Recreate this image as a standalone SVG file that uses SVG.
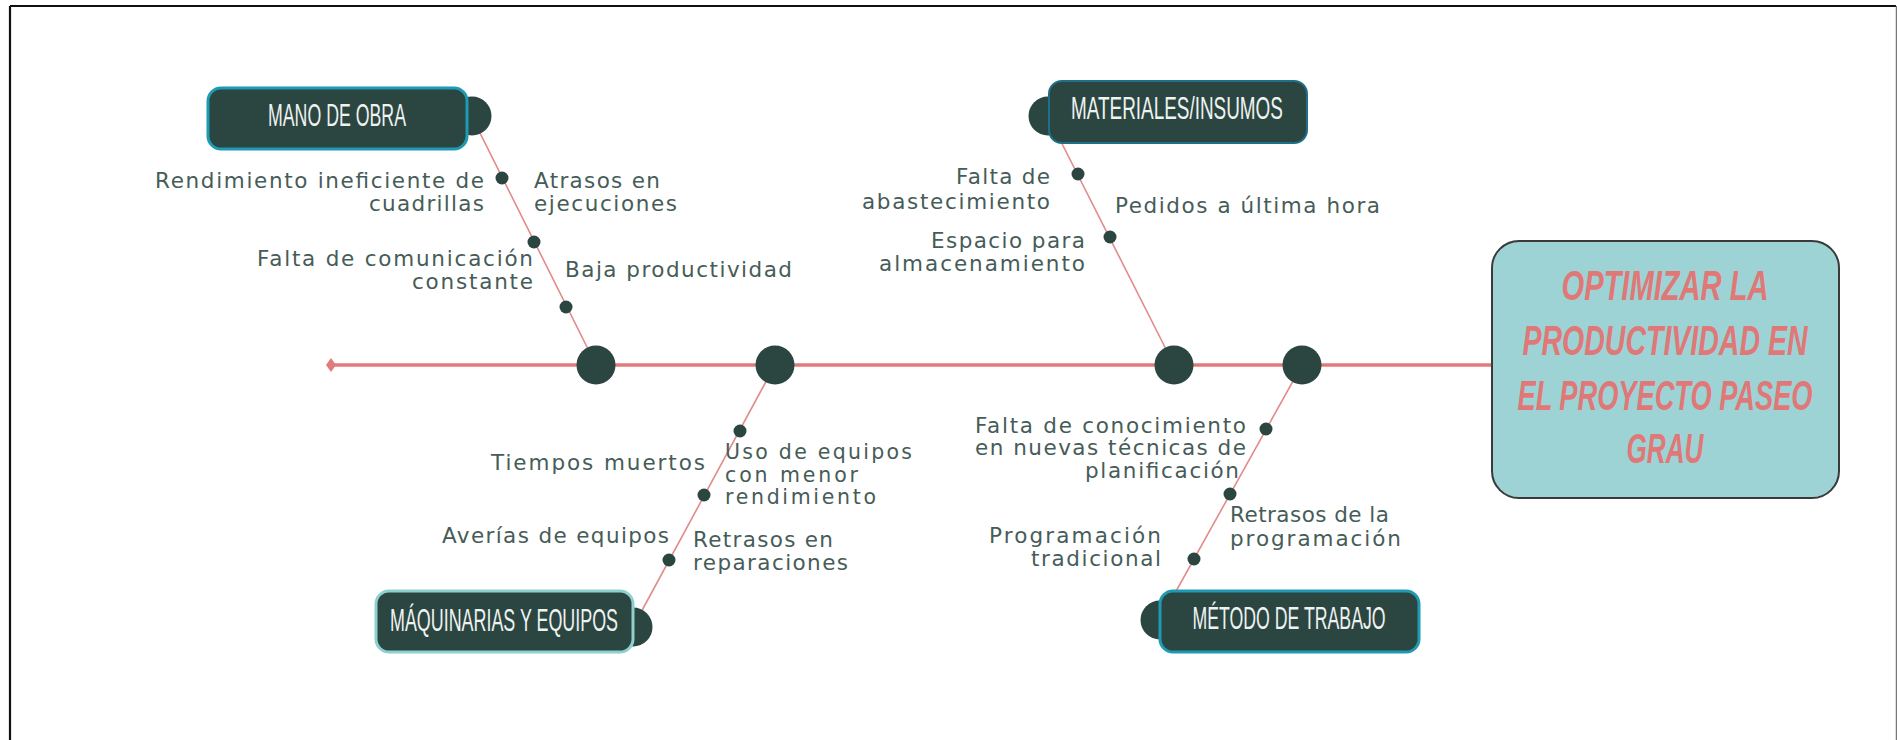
<svg xmlns="http://www.w3.org/2000/svg" width="1897" height="740" viewBox="0 0 1897 740">
<style>
.frame{stroke:#111;stroke-width:2.2;fill:none}
.spine{stroke:#e07b7b;stroke-width:3.5;fill:none}
.bone{stroke:#e38a8a;stroke-width:1.6;fill:none}
.big{fill:#2b4641}
.dot{fill:#2b4641}
.box{fill:#2b4641;stroke-width:3}
.knob{fill:#2b4641}
.title{font-family:"Liberation Sans","DejaVu Sans",sans-serif;font-size:31px;fill:#eef2f1;text-anchor:middle}
.lbl{font-family:"DejaVu Sans","Noto Sans",sans-serif;font-size:21.5px;fill:#465c58}
.sm{font-size:20.5px}
.e{text-anchor:end}
.goal{fill:#9dd3d4;stroke:#3a3a3a;stroke-width:2}
.gt{font-family:"Liberation Sans","DejaVu Sans",sans-serif;font-size:42px;font-weight:bold;font-style:italic;fill:#e07878;text-anchor:middle}
</style>
<rect width="1897" height="740" fill="#fff"/>
<line class="frame" x1="10" y1="6" x2="1896" y2="6"/>
<line class="frame" x1="10" y1="6" x2="10" y2="740"/>
<line x1="1896.5" y1="6" x2="1896.5" y2="740" stroke="#777" stroke-width="1.5"/>

<g id="connectors">
  <line class="spine" x1="333" y1="365" x2="1493" y2="365"/>
  <path d="M331 358 L336 365 L331 372 L326 365 Z" fill="#e07b7b"/>
  <line class="bone" x1="472" y1="117" x2="596" y2="365"/>
  <line class="bone" x1="1048" y1="116" x2="1174" y2="365"/>
  <line class="bone" x1="775" y1="365" x2="633" y2="627"/>
  <line class="bone" x1="1302" y1="365" x2="1160" y2="620"/>
  <circle class="big" cx="596" cy="365" r="19.5"/>
  <circle class="big" cx="775" cy="365" r="19.5"/>
  <circle class="big" cx="1174" cy="365" r="19.5"/>
  <circle class="big" cx="1302" cy="365" r="19.5"/>
</g>

<g id="goal">
  <rect class="goal" x="1492" y="241" width="347" height="257" rx="27"/>
  <text class="gt" transform="translate(1665,300) scale(0.66,1)" textLength="313.6" lengthAdjust="spacingAndGlyphs">OPTIMIZAR LA</text>
  <text class="gt" transform="translate(1665,355) scale(0.66,1)" textLength="431.8" lengthAdjust="spacingAndGlyphs">PRODUCTIVIDAD EN</text>
  <text class="gt" transform="translate(1665,410) scale(0.66,1)" textLength="447" lengthAdjust="spacingAndGlyphs">EL PROYECTO PASEO</text>
  <text class="gt" transform="translate(1665,463) scale(0.66,1)" textLength="116.7" lengthAdjust="spacingAndGlyphs">GRAU</text>
</g>

<g id="mano-de-obra">
  <circle class="knob" cx="472" cy="116" r="19.5"/>
  <rect class="box" x="208" y="88" width="259" height="61" rx="13" stroke="#1e9ab3"/>
  <text class="title" transform="translate(337,126) scale(0.6,1)" textLength="230" lengthAdjust="spacingAndGlyphs">MANO DE OBRA</text>
  <circle class="dot" cx="502" cy="178" r="6.5"/>
  <circle class="dot" cx="534" cy="242" r="6.5"/>
  <circle class="dot" cx="566" cy="307" r="6.5"/>
  <text class="lbl e" x="484" y="188" textLength="329">Rendimiento ineficiente de</text>
  <text class="lbl e" x="484" y="211" textLength="115">cuadrillas</text>
  <text class="lbl" x="534" y="188" textLength="126">Atrasos en</text>
  <text class="lbl" x="534" y="211" textLength="143">ejecuciones</text>
  <text class="lbl e" x="533" y="266" textLength="276">Falta de comunicación</text>
  <text class="lbl e" x="533" y="289" textLength="121">constante</text>
  <text class="lbl" x="565" y="277" textLength="227">Baja productividad</text>
</g>

<g id="materiales">
  <circle class="knob" cx="1048" cy="116" r="19.5"/>
  <rect class="box" x="1049" y="81" width="258" height="62" rx="13" stroke="#1f6f86" style="stroke-width:2"/>
  <text class="title" transform="translate(1177,119) scale(0.6,1)" textLength="353" lengthAdjust="spacingAndGlyphs">MATERIALES/INSUMOS</text>
  <circle class="dot" cx="1078" cy="174" r="6.5"/>
  <circle class="dot" cx="1110" cy="237" r="6.5"/>
  <text class="lbl e" x="1050" y="184" textLength="94">Falta de</text>
  <text class="lbl e" x="1050" y="209" textLength="188">abastecimiento</text>
  <text class="lbl e" x="1085" y="248" textLength="154">Espacio para</text>
  <text class="lbl e" x="1085" y="271" textLength="206">almacenamiento</text>
  <text class="lbl" x="1115" y="213" textLength="265">Pedidos a última hora</text>
</g>

<g id="maquinarias">
  <circle class="knob" cx="633" cy="627" r="19.5"/>
  <rect class="box" x="376" y="591" width="257" height="61" rx="13" stroke="#8ecfcf"/>
  <text class="title" transform="translate(504,631) scale(0.6,1)" textLength="380" lengthAdjust="spacingAndGlyphs">MÁQUINARIAS Y EQUIPOS</text>
  <circle class="dot" cx="740" cy="431" r="6.5"/>
  <circle class="dot" cx="704" cy="495" r="6.5"/>
  <circle class="dot" cx="669" cy="560" r="6.5"/>
  <text class="lbl e" x="705" y="470" textLength="214">Tiempos muertos</text>
  <text class="lbl e" x="669" y="543" textLength="227">Averías de equipos</text>
  <text class="lbl sm" x="725" y="459" textLength="187">Uso de equipos</text>
  <text class="lbl sm" x="725" y="481.5" textLength="133">con menor</text>
  <text class="lbl sm" x="725" y="504" textLength="151">rendimiento</text>
  <text class="lbl" x="693" y="547" textLength="140">Retrasos en</text>
  <text class="lbl" x="693" y="570" textLength="155">reparaciones</text>
</g>

<g id="metodo">
  <circle class="knob" cx="1160" cy="620" r="19.5"/>
  <rect class="box" x="1160" y="591" width="259" height="61" rx="13" stroke="#1e9ab3"/>
  <text class="title" transform="translate(1289,629) scale(0.6,1)" textLength="322" lengthAdjust="spacingAndGlyphs">MÉTODO DE TRABAJO</text>
  <circle class="dot" cx="1266" cy="429" r="6.5"/>
  <circle class="dot" cx="1230" cy="494" r="6.5"/>
  <circle class="dot" cx="1194" cy="559" r="6.5"/>
  <text class="lbl e" x="1246" y="433" textLength="271">Falta de conocimiento</text>
  <text class="lbl e" x="1246" y="455" textLength="271">en nuevas técnicas de</text>
  <text class="lbl e" x="1239" y="478" textLength="154">planificación</text>
  <text class="lbl e" x="1161" y="543" textLength="172">Programación</text>
  <text class="lbl e" x="1161" y="566" textLength="130">tradicional</text>
  <text class="lbl" x="1230" y="522" textLength="159">Retrasos de la</text>
  <text class="lbl" x="1230" y="546" textLength="171">programación</text>
</g>
</svg>
